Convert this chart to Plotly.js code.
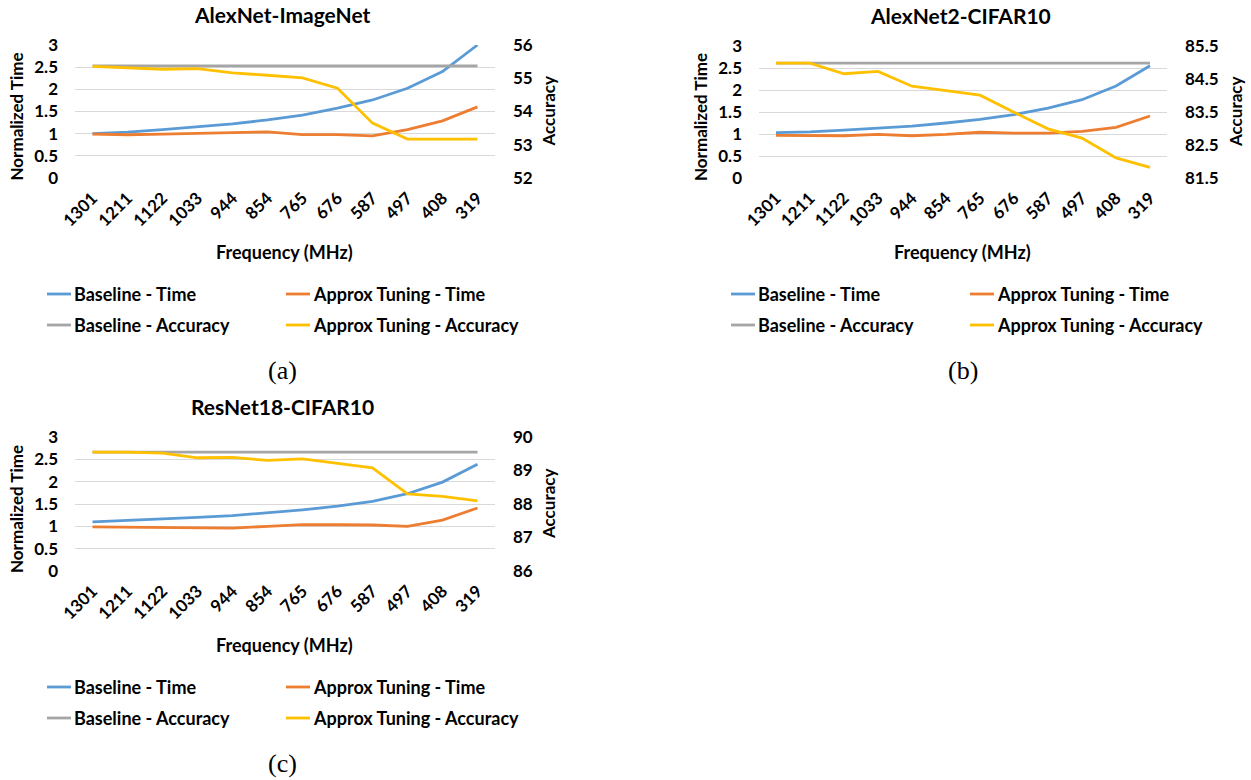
<!DOCTYPE html>
<html>
<head>
<meta charset="utf-8">
<script src="https://cdn.plot.ly/plotly-3.0.1.min.js"></script>
<style>
  html, body { margin: 0; padding: 0; background: #ffffff; }
  #chart { width: 1251px; height: 780px; }
</style>
</head>
<body>
<div id="chart"></div>
<script>
// Frequency steps shared by all three panels
const freqLabels = ['1301', '1211', '1122', '1033', '944', '854', '765', '676', '587', '497', '408', '319'];

// Series names
const seriesNames = ['Baseline - Time', 'Approx Tuning - Time', 'Baseline - Accuracy', 'Approx Tuning - Accuracy'];

// Panel titles
const panelTitles = ['AlexNet-ImageNet', 'AlexNet2-CIFAR10', 'ResNet18-CIFAR10'];
const panelCaptions = ['(a)', '(b)', '(c)'];

// AlexNet-ImageNet
const alexImgBaseTime   = [1.00, 1.035, 1.09, 1.15, 1.22, 1.31, 1.42, 1.575, 1.76, 2.025, 2.40, 3.00];
const alexImgApproxTime = [0.99, 0.975, 0.99, 1.01, 1.03, 1.04, 0.98, 0.98, 0.95, 1.09, 1.29, 1.605];
const alexImgBaseAcc    = [55.37, 55.37, 55.37, 55.37, 55.37, 55.37, 55.37, 55.37, 55.37, 55.37, 55.37, 55.37];
const alexImgApproxAcc  = [55.36, 55.31, 55.27, 55.29, 55.16, 55.09, 55.01, 54.70, 53.65, 53.17, 53.17, 53.17];

// AlexNet2-CIFAR10
const alex2BaseTime   = [1.03, 1.05, 1.09, 1.13, 1.18, 1.25, 1.33, 1.44, 1.59, 1.78, 2.09, 2.55];
const alex2ApproxTime = [0.97, 0.97, 0.96, 0.99, 0.96, 0.99, 1.04, 1.02, 1.02, 1.06, 1.15, 1.41];
const alex2BaseAcc    = [84.98, 84.98, 84.98, 84.98, 84.98, 84.98, 84.98, 84.98, 84.98, 84.98, 84.98, 84.98];
const alex2ApproxAcc  = [84.98, 84.98, 84.66, 84.73, 84.28, 84.14, 84.01, 83.49, 82.99, 82.71, 82.11, 81.82];

// ResNet18-CIFAR10
const resnetBaseTime   = [1.10, 1.13, 1.16, 1.20, 1.24, 1.30, 1.37, 1.45, 1.56, 1.73, 1.99, 2.39];
const resnetApproxTime = [0.99, 0.98, 0.975, 0.96, 0.96, 1.00, 1.04, 1.035, 1.03, 1.00, 1.14, 1.41];
const resnetBaseAcc    = [89.55, 89.55, 89.55, 89.55, 89.55, 89.55, 89.55, 89.55, 89.55, 89.55, 89.55, 89.55];
const resnetApproxAcc  = [89.55, 89.55, 89.52, 89.38, 89.39, 89.30, 89.35, 89.22, 89.08, 88.30, 88.23, 88.09];

// Accuracy axis ranges per panel
const accRanges = [[52, 56], [81.5, 85.5], [86, 90]];

// ---- styling / geometry ----
const W = 1251, H = 780;
const COLORS = ['#5b9bd5', '#ed7d31', '#a5a5a5', '#ffc000'];
const FONT = 'Lato, "Open Sans", sans-serif';
const SERIF = '"Liberation Serif", "DejaVu Serif", serif';
const px = x => x / W;
const py = y => 1 - y / H;

// pixel boxes of each plot area: [left, right, top, bottom]
const boxes = [
  [75, 495, 45, 178],
  [759, 1167, 46, 178],
  [75, 495, 437, 571]
];
// horizontal centre of the accuracy axis title per panel
const accTitleX = [548, 1236, 548];

const panelData = [
  [alexImgBaseTime, alexImgApproxTime, alexImgBaseAcc, alexImgApproxAcc],
  [alex2BaseTime, alex2ApproxTime, alex2BaseAcc, alex2ApproxAcc],
  [resnetBaseTime, resnetApproxTime, resnetBaseAcc, resnetApproxAcc]
];

const traces = [];
const layout = {
  width: W, height: H,
  margin: {l: 0, r: 0, t: 0, b: 0},
  paper_bgcolor: '#ffffff',
  plot_bgcolor: 'rgba(0,0,0,0)',
  showlegend: false,
  font: {family: FONT, color: '#000000'},
  annotations: [],
  shapes: []
};

const tickFont = {family: FONT, size: 17, color: '#000000', weight: 'bold'};

panelData.forEach((series, p) => {
  const [l, r, t, b] = boxes[p];
  const xName = p === 0 ? 'x' : 'x' + (p + 1);
  const yTime = p === 0 ? 'y' : 'y' + (2 * p + 1);
  const yAcc = 'y' + (2 * p + 2);
  const xKey = p === 0 ? 'xaxis' : 'xaxis' + (p + 1);
  const yTimeKey = p === 0 ? 'yaxis' : 'yaxis' + (2 * p + 1);
  const yAccKey = 'yaxis' + (2 * p + 2);

  series.forEach((vals, s) => {
    traces.push({
      type: 'scatter', mode: 'lines',
      name: seriesNames[s],
      x: freqLabels, y: vals,
      xaxis: xName, yaxis: s < 2 ? yTime : yAcc,
      line: {color: COLORS[s], width: 2.8},
      hoverinfo: 'skip'
    });
  });

  layout[xKey] = {
    domain: [px(l), px(r)],
    anchor: yTime,
    type: 'category',
    categoryorder: 'array', categoryarray: freqLabels,
    range: [-0.5, freqLabels.length - 0.5],
    showgrid: false, zeroline: false, showline: false,
    ticks: '', tickangle: -45,
    ticklabelstandoff: 6,
    tickfont: tickFont
  };
  layout[yTimeKey] = {
    domain: [py(b), py(t)],
    anchor: xName,
    range: [0, 3], dtick: 0.5, tick0: 0,
    showgrid: true, gridcolor: '#d9d9d9', gridwidth: 1,
    zeroline: false, showline: false, ticks: '',
    ticklabelstandoff: 16,
    tickfont: tickFont
  };
  layout[yAccKey] = {
    overlaying: yTime,
    anchor: xName,
    side: 'right',
    range: accRanges[p], dtick: 1, tick0: accRanges[p][0],
    showgrid: false, zeroline: false, showline: false, ticks: '',
    ticklabelstandoff: 17,
    tickfont: tickFont
  };

  // panel title
  const cx = (l + r) / 2 - 3;
  layout.annotations.push({
    xref: 'paper', yref: 'paper', x: px(cx), y: py(t - 31),
    text: '<b>' + panelTitles[p] + '</b>', showarrow: false,
    xanchor: 'center', yanchor: 'middle',
    font: {family: FONT, size: 21, color: '#000000'}
  });
  // axis titles
  layout.annotations.push({
    xref: 'paper', yref: 'paper', x: px(l - 59), y: py((t + b) / 2 + 5),
    text: '<b>Normalized Time</b>', textangle: -90, showarrow: false,
    xanchor: 'center', yanchor: 'middle',
    font: {family: FONT, size: 17, color: '#000000'}
  });
  layout.annotations.push({
    xref: 'paper', yref: 'paper', x: px(accTitleX[p]), y: py((t + b) / 2),
    text: '<b>Accuracy</b>', textangle: -90, showarrow: false,
    xanchor: 'center', yanchor: 'middle',
    font: {family: FONT, size: 17, color: '#000000'}
  });
  layout.annotations.push({
    xref: 'paper', yref: 'paper', x: px(cx + 2), y: py(b + 74),
    text: '<b>Frequency (MHz)</b>', showarrow: false,
    xanchor: 'center', yanchor: 'middle',
    font: {family: FONT, size: 18, color: '#000000'}
  });

  // legend, two columns by two rows
  const legX = [l - 28, l + 211];
  const legY = [b + 116, b + 147];
  const order = [[0, 0], [1, 0], [0, 1], [1, 1]]; // [col, row] per series
  order.forEach(([c, rr], s) => {
    const x0 = legX[c], y0 = legY[rr];
    layout.shapes.push({
      type: 'line', xref: 'paper', yref: 'paper',
      x0: px(x0), x1: px(x0 + 24), y0: py(y0), y1: py(y0),
      line: {color: COLORS[s], width: 2.8}
    });
    layout.annotations.push({
      xref: 'paper', yref: 'paper', x: px(x0 + 25), y: py(y0),
      text: '<b>' + seriesNames[s] + '</b>', showarrow: false,
      xanchor: 'left', yanchor: 'middle',
      font: {family: FONT, size: 18, color: '#000000'}
    });
  });

  // caption
  layout.annotations.push({
    xref: 'paper', yref: 'paper', x: px(cx + (p === 1 ? 3 : 0)), y: py(b + 192),
    text: panelCaptions[p], showarrow: false,
    xanchor: 'center', yanchor: 'middle',
    font: {family: SERIF, size: 26, color: '#000000'}
  });
});

Plotly.newPlot('chart', traces, layout, {staticPlot: true, displayModeBar: false});
</script>
</body>
</html>
